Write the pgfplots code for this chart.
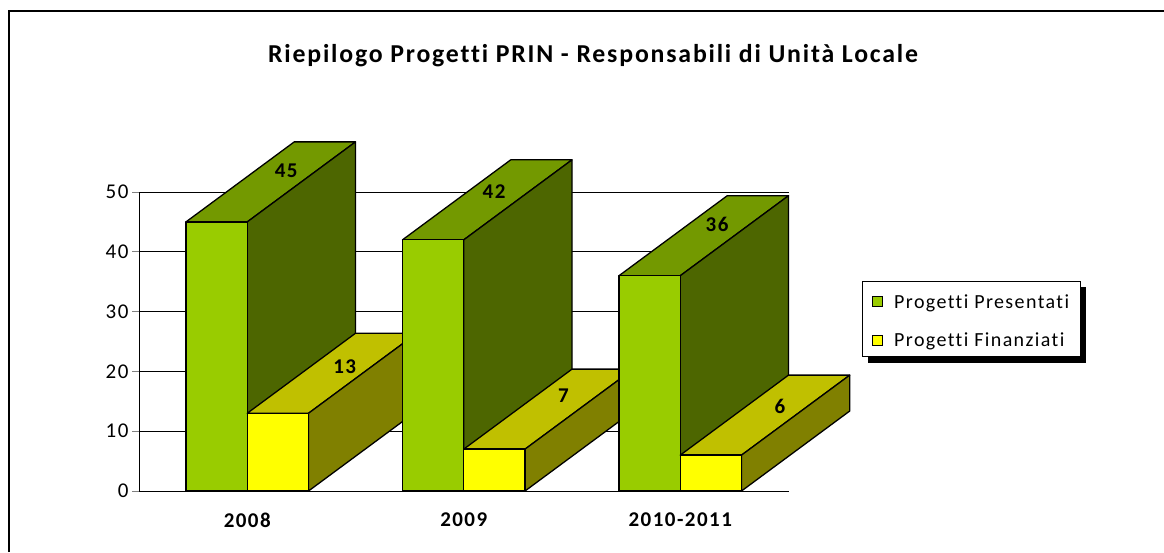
\documentclass[border=0pt]{standalone}
\usepackage{fontspec}
\setmainfont{Carlito}[LetterSpace=7, Ligatures=NoCommon]
\usepackage{pgfplots}
\pgfplotsset{compat=1.18}
\definecolor{gfront}{HTML}{99CC00}
\definecolor{gtop}{HTML}{739900}
\definecolor{gside}{HTML}{4D6600}
\definecolor{yfront}{HTML}{FFFF00}
\definecolor{ytop}{HTML}{C0C000}
\definecolor{yside}{HTML}{808000}
\begin{document}
\begin{tikzpicture}
\path[use as bounding box] (0,0) rectangle (1164pt,552pt);
\draw[line width=2pt] (9pt,0) -- (9pt,540.5pt) -- (1164pt,540.5pt);
\node[font=\bfseries\fontsize{25.8}{29}\selectfont] at (593pt,496pt) {Riepilogo Progetti PRIN - Responsabili di Unità Locale};
\begin{axis}[
  at={(139pt,61pt)}, anchor=south west, scale only axis,
  width=649.5pt, height=299pt,
  xmin=-0.5, xmax=2.5, ymin=0, ymax=50, clip=false,
  axis x line=bottom, axis y line=left,
  axis line style={-, line width=1pt},
  xtick={0,1,2}, xticklabels={2008,2009,2010-2011},
  x tick label style={font=\bfseries\fontsize{21}{23}\selectfont, yshift=-11pt},
  ytick={0,10,20,30,40,50},
  y tick label style={font=\fontsize{21}{23}\selectfont},
  /pgf/number format/assume math mode=true,
  ymajorgrids, grid style={black, line width=0.8pt},
  major tick length=7pt, tick align=outside,
  xtick style={draw=none}, ytick style={line width=1pt},
  legend image code/.code={\draw[#1] (0pt,-5pt) rectangle (10pt,5pt); \path (19pt,0pt);},
  legend style={at={(1.1286,0.7023)}, anchor=north west, draw=none, fill=none,
    font=\fontsize{20}{22}\selectfont, inner xsep=0pt, inner ysep=11pt,
    row sep=19pt,
    cells={anchor=west, text height=14pt, text depth=4.5pt}},
  bar3d/.style={draw=black, line width=1.3pt, line join=round, forget plot},
]
% legend frame with shadow
\fill[black] (rel axis cs:1.1224,0.6823) rectangle (rel axis cs:1.4580,0.4281);
\draw[fill=white, line width=1pt] (rel axis cs:1.1132,0.7023) rectangle (rel axis cs:1.4488,0.4482);
% ---- 2008 ----
\addplot[bar3d, fill=gtop] coordinates {(-0.283,45) (0,45) (0.5,58.38) (0.217,58.38)} -- cycle;
\addplot[bar3d, fill=gside] coordinates {(0,0) (0.5,13.38) (0.5,58.38) (0,45)} -- cycle;
\addplot[bar3d, fill=gfront] coordinates {(-0.283,0) (0,0) (0,45) (-0.283,45)} -- cycle;
\addplot[bar3d, fill=ytop] coordinates {(0,13) (0.283,13) (0.783,26.38) (0.5,26.38)} -- cycle;
\addplot[bar3d, fill=yside] coordinates {(0.283,0) (0.783,13.38) (0.783,26.38) (0.283,13)} -- cycle;
\addplot[bar3d, fill=yfront] coordinates {(0,0) (0.283,0) (0.283,13) (0,13)} -- cycle;
% ---- 2009 ----
\addplot[bar3d, fill=gtop] coordinates {(0.717,42) (1,42) (1.5,55.38) (1.217,55.38)} -- cycle;
\addplot[bar3d, fill=gside] coordinates {(1,0) (1.5,13.38) (1.5,55.38) (1,42)} -- cycle;
\addplot[bar3d, fill=gfront] coordinates {(0.717,0) (1,0) (1,42) (0.717,42)} -- cycle;
\addplot[bar3d, fill=ytop] coordinates {(1,7) (1.283,7) (1.783,20.38) (1.5,20.38)} -- cycle;
\addplot[bar3d, fill=yside] coordinates {(1.283,0) (1.783,13.38) (1.783,20.38) (1.283,7)} -- cycle;
\addplot[bar3d, fill=yfront] coordinates {(1,0) (1.283,0) (1.283,7) (1,7)} -- cycle;
% ---- 2010-2011 ----
\addplot[bar3d, fill=gtop] coordinates {(1.717,36) (2,36) (2.5,49.38) (2.217,49.38)} -- cycle;
\addplot[bar3d, fill=gside] coordinates {(2,0) (2.5,13.38) (2.5,49.38) (2,36)} -- cycle;
\addplot[bar3d, fill=gfront] coordinates {(1.717,0) (2,0) (2,36) (1.717,36)} -- cycle;
\addplot[bar3d, fill=ytop] coordinates {(2,6) (2.283,6) (2.783,19.38) (2.5,19.38)} -- cycle;
\addplot[bar3d, fill=yside] coordinates {(2.283,0) (2.783,13.38) (2.783,19.38) (2.283,6)} -- cycle;
\addplot[bar3d, fill=yfront] coordinates {(2,0) (2.283,0) (2.283,6) (2,6)} -- cycle;
% labels
\begin{scope}[every node/.style={font=\bfseries\fontsize{21}{23}\selectfont}]
\node at (axis cs:0.18,53.6) {45};
\node at (axis cs:0.45,20.8) {13};
\node at (axis cs:1.14,50.0) {42};
\node at (axis cs:1.46,16.0) {7};
\node at (axis cs:2.17,44.6) {36};
\node at (axis cs:2.46,14.2) {6};
\end{scope}
\addlegendimage{fill=gfront, draw=black, line width=1pt}
\addlegendentry{Progetti Presentati}
\addlegendimage{fill=yfront, draw=black, line width=1pt}
\addlegendentry{Progetti Finanziati}
\end{axis}
\end{tikzpicture}
\end{document}
